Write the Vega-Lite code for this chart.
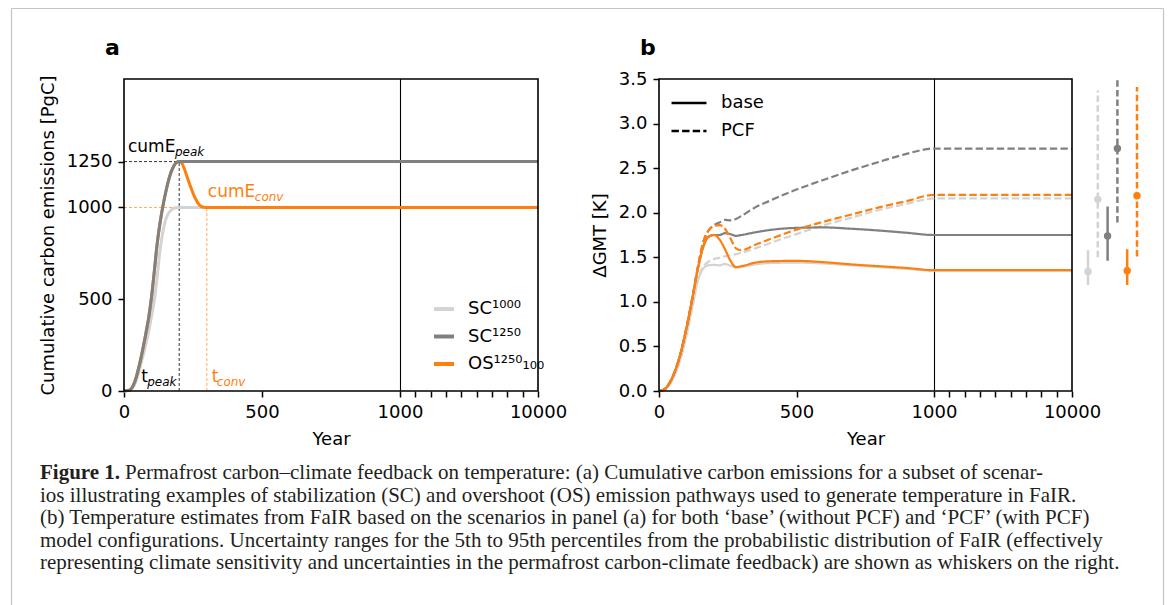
{
  "$schema": "https://vega.github.io/schema/vega-lite/v6.json",
  "width": 1152,
  "height": 597,
  "padding": {"left": 11, "top": 8, "right": 5, "bottom": 0},
  "autosize": {"type": "none"},
  "background": "#ffffff",
  "view": {"stroke": null},
  "config": {
    "font": "DejaVu Sans",
    "axis": {
      "labelFont": "DejaVu Sans", "labelFontSize": 18, "labelColor": "#000000",
      "titleFont": "DejaVu Sans", "titleFontSize": 18, "titleFontWeight": "normal", "titleColor": "#000000",
      "tickColor": "#000000", "tickSize": 6, "tickWidth": 1.5, "domain": false, "grid": false,
      "labelPadding": 6, "labelFlush": false, "labelOverlap": false, "titlePadding": 9
    },
    "legend": {"labelFont": "DejaVu Sans", "labelFontSize": 18, "labelColor": "#000000"}
  },
  "datasets": {
    "emis": [
      {"scenario": "SC¹⁰⁰⁰", "year": 0, "value": 0}, {"scenario": "SC¹⁰⁰⁰", "year": 20, "value": 4}, {"scenario": "SC¹⁰⁰⁰", "year": 40, "value": 40}, {"scenario": "SC¹⁰⁰⁰", "year": 60, "value": 140}, {"scenario": "SC¹⁰⁰⁰", "year": 80, "value": 260}, {"scenario": "SC¹⁰⁰⁰", "year": 90, "value": 330}, {"scenario": "SC¹⁰⁰⁰", "year": 100, "value": 410}, {"scenario": "SC¹⁰⁰⁰", "year": 110, "value": 495}, {"scenario": "SC¹⁰⁰⁰", "year": 120, "value": 620}, {"scenario": "SC¹⁰⁰⁰", "year": 130, "value": 760}, {"scenario": "SC¹⁰⁰⁰", "year": 140, "value": 860}, {"scenario": "SC¹⁰⁰⁰", "year": 150, "value": 928}, {"scenario": "SC¹⁰⁰⁰", "year": 160, "value": 965}, {"scenario": "SC¹⁰⁰⁰", "year": 170, "value": 985}, {"scenario": "SC¹⁰⁰⁰", "year": 180, "value": 995}, {"scenario": "SC¹⁰⁰⁰", "year": 190, "value": 999}, {"scenario": "SC¹⁰⁰⁰", "year": 200, "value": 1000}, {"scenario": "SC¹⁰⁰⁰", "year": 1000, "value": 1000}, {"scenario": "SC¹⁰⁰⁰", "year": 10000, "value": 1000},
      {"scenario": "SC¹²⁵⁰", "year": 0, "value": 0}, {"scenario": "SC¹²⁵⁰", "year": 20, "value": 5}, {"scenario": "SC¹²⁵⁰", "year": 40, "value": 55}, {"scenario": "SC¹²⁵⁰", "year": 60, "value": 170}, {"scenario": "SC¹²⁵⁰", "year": 80, "value": 320}, {"scenario": "SC¹²⁵⁰", "year": 90, "value": 405}, {"scenario": "SC¹²⁵⁰", "year": 100, "value": 515}, {"scenario": "SC¹²⁵⁰", "year": 110, "value": 655}, {"scenario": "SC¹²⁵⁰", "year": 120, "value": 800}, {"scenario": "SC¹²⁵⁰", "year": 130, "value": 910}, {"scenario": "SC¹²⁵⁰", "year": 140, "value": 1000}, {"scenario": "SC¹²⁵⁰", "year": 150, "value": 1075}, {"scenario": "SC¹²⁵⁰", "year": 160, "value": 1140}, {"scenario": "SC¹²⁵⁰", "year": 170, "value": 1190}, {"scenario": "SC¹²⁵⁰", "year": 180, "value": 1225}, {"scenario": "SC¹²⁵⁰", "year": 190, "value": 1245}, {"scenario": "SC¹²⁵⁰", "year": 200, "value": 1250}, {"scenario": "SC¹²⁵⁰", "year": 1000, "value": 1250}, {"scenario": "SC¹²⁵⁰", "year": 10000, "value": 1250},
      {"scenario": "OS¹²⁵⁰₁₀₀", "year": 0, "value": 0}, {"scenario": "OS¹²⁵⁰₁₀₀", "year": 20, "value": 5}, {"scenario": "OS¹²⁵⁰₁₀₀", "year": 40, "value": 55}, {"scenario": "OS¹²⁵⁰₁₀₀", "year": 60, "value": 170}, {"scenario": "OS¹²⁵⁰₁₀₀", "year": 80, "value": 320}, {"scenario": "OS¹²⁵⁰₁₀₀", "year": 90, "value": 405}, {"scenario": "OS¹²⁵⁰₁₀₀", "year": 100, "value": 515}, {"scenario": "OS¹²⁵⁰₁₀₀", "year": 110, "value": 655}, {"scenario": "OS¹²⁵⁰₁₀₀", "year": 120, "value": 800}, {"scenario": "OS¹²⁵⁰₁₀₀", "year": 130, "value": 910}, {"scenario": "OS¹²⁵⁰₁₀₀", "year": 140, "value": 1000}, {"scenario": "OS¹²⁵⁰₁₀₀", "year": 150, "value": 1075}, {"scenario": "OS¹²⁵⁰₁₀₀", "year": 160, "value": 1140}, {"scenario": "OS¹²⁵⁰₁₀₀", "year": 170, "value": 1190}, {"scenario": "OS¹²⁵⁰₁₀₀", "year": 180, "value": 1225}, {"scenario": "OS¹²⁵⁰₁₀₀", "year": 190, "value": 1245}, {"scenario": "OS¹²⁵⁰₁₀₀", "year": 200, "value": 1250}, {"scenario": "OS¹²⁵⁰₁₀₀", "year": 210, "value": 1240}, {"scenario": "OS¹²⁵⁰₁₀₀", "year": 220, "value": 1205}, {"scenario": "OS¹²⁵⁰₁₀₀", "year": 230, "value": 1160}, {"scenario": "OS¹²⁵⁰₁₀₀", "year": 240, "value": 1118}, {"scenario": "OS¹²⁵⁰₁₀₀", "year": 250, "value": 1078}, {"scenario": "OS¹²⁵⁰₁₀₀", "year": 260, "value": 1045}, {"scenario": "OS¹²⁵⁰₁₀₀", "year": 270, "value": 1020}, {"scenario": "OS¹²⁵⁰₁₀₀", "year": 280, "value": 1006}, {"scenario": "OS¹²⁵⁰₁₀₀", "year": 290, "value": 1001}, {"scenario": "OS¹²⁵⁰₁₀₀", "year": 300, "value": 1000}, {"scenario": "OS¹²⁵⁰₁₀₀", "year": 1000, "value": 1000}, {"scenario": "OS¹²⁵⁰₁₀₀", "year": 10000, "value": 1000}
    ],
    "gmt": [
      {"scenario": "SC¹⁰⁰⁰", "config": "base", "year": 0, "value": 0}, {"scenario": "SC¹⁰⁰⁰", "config": "base", "year": 20, "value": 0.015}, {"scenario": "SC¹⁰⁰⁰", "config": "base", "year": 40, "value": 0.08}, {"scenario": "SC¹⁰⁰⁰", "config": "base", "year": 60, "value": 0.2}, {"scenario": "SC¹⁰⁰⁰", "config": "base", "year": 80, "value": 0.38}, {"scenario": "SC¹⁰⁰⁰", "config": "base", "year": 100, "value": 0.63}, {"scenario": "SC¹⁰⁰⁰", "config": "base", "year": 120, "value": 0.92}, {"scenario": "SC¹⁰⁰⁰", "config": "base", "year": 140, "value": 1.22}, {"scenario": "SC¹⁰⁰⁰", "config": "base", "year": 160, "value": 1.37}, {"scenario": "SC¹⁰⁰⁰", "config": "base", "year": 180, "value": 1.41}, {"scenario": "SC¹⁰⁰⁰", "config": "base", "year": 200, "value": 1.415}, {"scenario": "SC¹⁰⁰⁰", "config": "base", "year": 220, "value": 1.41}, {"scenario": "SC¹⁰⁰⁰", "config": "base", "year": 240, "value": 1.425}, {"scenario": "SC¹⁰⁰⁰", "config": "base", "year": 260, "value": 1.405}, {"scenario": "SC¹⁰⁰⁰", "config": "base", "year": 280, "value": 1.385}, {"scenario": "SC¹⁰⁰⁰", "config": "base", "year": 300, "value": 1.39}, {"scenario": "SC¹⁰⁰⁰", "config": "base", "year": 350, "value": 1.42}, {"scenario": "SC¹⁰⁰⁰", "config": "base", "year": 400, "value": 1.435}, {"scenario": "SC¹⁰⁰⁰", "config": "base", "year": 500, "value": 1.44}, {"scenario": "SC¹⁰⁰⁰", "config": "base", "year": 600, "value": 1.43}, {"scenario": "SC¹⁰⁰⁰", "config": "base", "year": 700, "value": 1.41}, {"scenario": "SC¹⁰⁰⁰", "config": "base", "year": 800, "value": 1.39}, {"scenario": "SC¹⁰⁰⁰", "config": "base", "year": 900, "value": 1.37}, {"scenario": "SC¹⁰⁰⁰", "config": "base", "year": 1000, "value": 1.35}, {"scenario": "SC¹⁰⁰⁰", "config": "base", "year": 10000, "value": 1.35},
      {"scenario": "SC¹⁰⁰⁰", "config": "PCF", "year": 0, "value": 0}, {"scenario": "SC¹⁰⁰⁰", "config": "PCF", "year": 20, "value": 0.015}, {"scenario": "SC¹⁰⁰⁰", "config": "PCF", "year": 40, "value": 0.08}, {"scenario": "SC¹⁰⁰⁰", "config": "PCF", "year": 60, "value": 0.2}, {"scenario": "SC¹⁰⁰⁰", "config": "PCF", "year": 80, "value": 0.38}, {"scenario": "SC¹⁰⁰⁰", "config": "PCF", "year": 100, "value": 0.63}, {"scenario": "SC¹⁰⁰⁰", "config": "PCF", "year": 120, "value": 0.92}, {"scenario": "SC¹⁰⁰⁰", "config": "PCF", "year": 140, "value": 1.23}, {"scenario": "SC¹⁰⁰⁰", "config": "PCF", "year": 160, "value": 1.39}, {"scenario": "SC¹⁰⁰⁰", "config": "PCF", "year": 180, "value": 1.45}, {"scenario": "SC¹⁰⁰⁰", "config": "PCF", "year": 200, "value": 1.48}, {"scenario": "SC¹⁰⁰⁰", "config": "PCF", "year": 220, "value": 1.495}, {"scenario": "SC¹⁰⁰⁰", "config": "PCF", "year": 240, "value": 1.51}, {"scenario": "SC¹⁰⁰⁰", "config": "PCF", "year": 260, "value": 1.52}, {"scenario": "SC¹⁰⁰⁰", "config": "PCF", "year": 280, "value": 1.535}, {"scenario": "SC¹⁰⁰⁰", "config": "PCF", "year": 300, "value": 1.55}, {"scenario": "SC¹⁰⁰⁰", "config": "PCF", "year": 350, "value": 1.6}, {"scenario": "SC¹⁰⁰⁰", "config": "PCF", "year": 400, "value": 1.655}, {"scenario": "SC¹⁰⁰⁰", "config": "PCF", "year": 500, "value": 1.76}, {"scenario": "SC¹⁰⁰⁰", "config": "PCF", "year": 600, "value": 1.86}, {"scenario": "SC¹⁰⁰⁰", "config": "PCF", "year": 700, "value": 1.945}, {"scenario": "SC¹⁰⁰⁰", "config": "PCF", "year": 800, "value": 2.03}, {"scenario": "SC¹⁰⁰⁰", "config": "PCF", "year": 900, "value": 2.1}, {"scenario": "SC¹⁰⁰⁰", "config": "PCF", "year": 1000, "value": 2.16}, {"scenario": "SC¹⁰⁰⁰", "config": "PCF", "year": 10000, "value": 2.16},
      {"scenario": "SC¹²⁵⁰", "config": "base", "year": 0, "value": 0}, {"scenario": "SC¹²⁵⁰", "config": "base", "year": 20, "value": 0.02}, {"scenario": "SC¹²⁵⁰", "config": "base", "year": 40, "value": 0.1}, {"scenario": "SC¹²⁵⁰", "config": "base", "year": 60, "value": 0.24}, {"scenario": "SC¹²⁵⁰", "config": "base", "year": 80, "value": 0.44}, {"scenario": "SC¹²⁵⁰", "config": "base", "year": 100, "value": 0.71}, {"scenario": "SC¹²⁵⁰", "config": "base", "year": 120, "value": 1.02}, {"scenario": "SC¹²⁵⁰", "config": "base", "year": 140, "value": 1.35}, {"scenario": "SC¹²⁵⁰", "config": "base", "year": 160, "value": 1.61}, {"scenario": "SC¹²⁵⁰", "config": "base", "year": 180, "value": 1.73}, {"scenario": "SC¹²⁵⁰", "config": "base", "year": 200, "value": 1.75}, {"scenario": "SC¹²⁵⁰", "config": "base", "year": 220, "value": 1.75}, {"scenario": "SC¹²⁵⁰", "config": "base", "year": 240, "value": 1.77}, {"scenario": "SC¹²⁵⁰", "config": "base", "year": 260, "value": 1.76}, {"scenario": "SC¹²⁵⁰", "config": "base", "year": 280, "value": 1.74}, {"scenario": "SC¹²⁵⁰", "config": "base", "year": 300, "value": 1.75}, {"scenario": "SC¹²⁵⁰", "config": "base", "year": 350, "value": 1.78}, {"scenario": "SC¹²⁵⁰", "config": "base", "year": 400, "value": 1.805}, {"scenario": "SC¹²⁵⁰", "config": "base", "year": 500, "value": 1.83}, {"scenario": "SC¹²⁵⁰", "config": "base", "year": 600, "value": 1.835}, {"scenario": "SC¹²⁵⁰", "config": "base", "year": 700, "value": 1.82}, {"scenario": "SC¹²⁵⁰", "config": "base", "year": 800, "value": 1.8}, {"scenario": "SC¹²⁵⁰", "config": "base", "year": 900, "value": 1.775}, {"scenario": "SC¹²⁵⁰", "config": "base", "year": 1000, "value": 1.75}, {"scenario": "SC¹²⁵⁰", "config": "base", "year": 10000, "value": 1.75},
      {"scenario": "SC¹²⁵⁰", "config": "PCF", "year": 0, "value": 0}, {"scenario": "SC¹²⁵⁰", "config": "PCF", "year": 20, "value": 0.02}, {"scenario": "SC¹²⁵⁰", "config": "PCF", "year": 40, "value": 0.1}, {"scenario": "SC¹²⁵⁰", "config": "PCF", "year": 60, "value": 0.24}, {"scenario": "SC¹²⁵⁰", "config": "PCF", "year": 80, "value": 0.44}, {"scenario": "SC¹²⁵⁰", "config": "PCF", "year": 100, "value": 0.71}, {"scenario": "SC¹²⁵⁰", "config": "PCF", "year": 120, "value": 1.02}, {"scenario": "SC¹²⁵⁰", "config": "PCF", "year": 140, "value": 1.37}, {"scenario": "SC¹²⁵⁰", "config": "PCF", "year": 160, "value": 1.66}, {"scenario": "SC¹²⁵⁰", "config": "PCF", "year": 180, "value": 1.8}, {"scenario": "SC¹²⁵⁰", "config": "PCF", "year": 200, "value": 1.86}, {"scenario": "SC¹²⁵⁰", "config": "PCF", "year": 220, "value": 1.89}, {"scenario": "SC¹²⁵⁰", "config": "PCF", "year": 240, "value": 1.92}, {"scenario": "SC¹²⁵⁰", "config": "PCF", "year": 260, "value": 1.915}, {"scenario": "SC¹²⁵⁰", "config": "PCF", "year": 280, "value": 1.93}, {"scenario": "SC¹²⁵⁰", "config": "PCF", "year": 300, "value": 1.965}, {"scenario": "SC¹²⁵⁰", "config": "PCF", "year": 350, "value": 2.06}, {"scenario": "SC¹²⁵⁰", "config": "PCF", "year": 400, "value": 2.13}, {"scenario": "SC¹²⁵⁰", "config": "PCF", "year": 500, "value": 2.26}, {"scenario": "SC¹²⁵⁰", "config": "PCF", "year": 600, "value": 2.37}, {"scenario": "SC¹²⁵⁰", "config": "PCF", "year": 700, "value": 2.475}, {"scenario": "SC¹²⁵⁰", "config": "PCF", "year": 800, "value": 2.57}, {"scenario": "SC¹²⁵⁰", "config": "PCF", "year": 900, "value": 2.66}, {"scenario": "SC¹²⁵⁰", "config": "PCF", "year": 1000, "value": 2.72}, {"scenario": "SC¹²⁵⁰", "config": "PCF", "year": 10000, "value": 2.72},
      {"scenario": "OS¹²⁵⁰₁₀₀", "config": "base", "year": 0, "value": 0}, {"scenario": "OS¹²⁵⁰₁₀₀", "config": "base", "year": 20, "value": 0.02}, {"scenario": "OS¹²⁵⁰₁₀₀", "config": "base", "year": 40, "value": 0.1}, {"scenario": "OS¹²⁵⁰₁₀₀", "config": "base", "year": 60, "value": 0.24}, {"scenario": "OS¹²⁵⁰₁₀₀", "config": "base", "year": 80, "value": 0.44}, {"scenario": "OS¹²⁵⁰₁₀₀", "config": "base", "year": 100, "value": 0.71}, {"scenario": "OS¹²⁵⁰₁₀₀", "config": "base", "year": 120, "value": 1.02}, {"scenario": "OS¹²⁵⁰₁₀₀", "config": "base", "year": 140, "value": 1.35}, {"scenario": "OS¹²⁵⁰₁₀₀", "config": "base", "year": 160, "value": 1.61}, {"scenario": "OS¹²⁵⁰₁₀₀", "config": "base", "year": 180, "value": 1.73}, {"scenario": "OS¹²⁵⁰₁₀₀", "config": "base", "year": 200, "value": 1.75}, {"scenario": "OS¹²⁵⁰₁₀₀", "config": "base", "year": 220, "value": 1.7}, {"scenario": "OS¹²⁵⁰₁₀₀", "config": "base", "year": 240, "value": 1.59}, {"scenario": "OS¹²⁵⁰₁₀₀", "config": "base", "year": 260, "value": 1.46}, {"scenario": "OS¹²⁵⁰₁₀₀", "config": "base", "year": 280, "value": 1.39}, {"scenario": "OS¹²⁵⁰₁₀₀", "config": "base", "year": 300, "value": 1.4}, {"scenario": "OS¹²⁵⁰₁₀₀", "config": "base", "year": 350, "value": 1.44}, {"scenario": "OS¹²⁵⁰₁₀₀", "config": "base", "year": 400, "value": 1.455}, {"scenario": "OS¹²⁵⁰₁₀₀", "config": "base", "year": 500, "value": 1.46}, {"scenario": "OS¹²⁵⁰₁₀₀", "config": "base", "year": 600, "value": 1.445}, {"scenario": "OS¹²⁵⁰₁₀₀", "config": "base", "year": 700, "value": 1.42}, {"scenario": "OS¹²⁵⁰₁₀₀", "config": "base", "year": 800, "value": 1.4}, {"scenario": "OS¹²⁵⁰₁₀₀", "config": "base", "year": 900, "value": 1.38}, {"scenario": "OS¹²⁵⁰₁₀₀", "config": "base", "year": 1000, "value": 1.355}, {"scenario": "OS¹²⁵⁰₁₀₀", "config": "base", "year": 10000, "value": 1.355},
      {"scenario": "OS¹²⁵⁰₁₀₀", "config": "PCF", "year": 0, "value": 0}, {"scenario": "OS¹²⁵⁰₁₀₀", "config": "PCF", "year": 20, "value": 0.02}, {"scenario": "OS¹²⁵⁰₁₀₀", "config": "PCF", "year": 40, "value": 0.1}, {"scenario": "OS¹²⁵⁰₁₀₀", "config": "PCF", "year": 60, "value": 0.24}, {"scenario": "OS¹²⁵⁰₁₀₀", "config": "PCF", "year": 80, "value": 0.44}, {"scenario": "OS¹²⁵⁰₁₀₀", "config": "PCF", "year": 100, "value": 0.71}, {"scenario": "OS¹²⁵⁰₁₀₀", "config": "PCF", "year": 120, "value": 1.02}, {"scenario": "OS¹²⁵⁰₁₀₀", "config": "PCF", "year": 140, "value": 1.37}, {"scenario": "OS¹²⁵⁰₁₀₀", "config": "PCF", "year": 160, "value": 1.66}, {"scenario": "OS¹²⁵⁰₁₀₀", "config": "PCF", "year": 180, "value": 1.8}, {"scenario": "OS¹²⁵⁰₁₀₀", "config": "PCF", "year": 200, "value": 1.85}, {"scenario": "OS¹²⁵⁰₁₀₀", "config": "PCF", "year": 220, "value": 1.86}, {"scenario": "OS¹²⁵⁰₁₀₀", "config": "PCF", "year": 240, "value": 1.82}, {"scenario": "OS¹²⁵⁰₁₀₀", "config": "PCF", "year": 260, "value": 1.71}, {"scenario": "OS¹²⁵⁰₁₀₀", "config": "PCF", "year": 280, "value": 1.6}, {"scenario": "OS¹²⁵⁰₁₀₀", "config": "PCF", "year": 300, "value": 1.58}, {"scenario": "OS¹²⁵⁰₁₀₀", "config": "PCF", "year": 350, "value": 1.64}, {"scenario": "OS¹²⁵⁰₁₀₀", "config": "PCF", "year": 400, "value": 1.7}, {"scenario": "OS¹²⁵⁰₁₀₀", "config": "PCF", "year": 500, "value": 1.81}, {"scenario": "OS¹²⁵⁰₁₀₀", "config": "PCF", "year": 600, "value": 1.9}, {"scenario": "OS¹²⁵⁰₁₀₀", "config": "PCF", "year": 700, "value": 1.98}, {"scenario": "OS¹²⁵⁰₁₀₀", "config": "PCF", "year": 800, "value": 2.06}, {"scenario": "OS¹²⁵⁰₁₀₀", "config": "PCF", "year": 900, "value": 2.13}, {"scenario": "OS¹²⁵⁰₁₀₀", "config": "PCF", "year": 1000, "value": 2.2}, {"scenario": "OS¹²⁵⁰₁₀₀", "config": "PCF", "year": 10000, "value": 2.2}
    ],
    "whisk": [
      {"run": "SC1000 base", "scenario": "SC¹⁰⁰⁰", "config": "base", "lo": 1.19, "mid": 1.34, "hi": 1.58},
      {"run": "SC1000 PCF", "scenario": "SC¹⁰⁰⁰", "config": "PCF", "lo": 1.5, "mid": 2.15, "hi": 3.37},
      {"run": "SC1250 base", "scenario": "SC¹²⁵⁰", "config": "base", "lo": 1.46, "mid": 1.74, "hi": 2.07},
      {"run": "SC1250 PCF", "scenario": "SC¹²⁵⁰", "config": "PCF", "lo": 1.89, "mid": 2.72, "hi": 3.5},
      {"run": "OS base", "scenario": "OS¹²⁵⁰₁₀₀", "config": "base", "lo": 1.19, "mid": 1.35, "hi": 1.59},
      {"run": "OS PCF", "scenario": "OS¹²⁵⁰₁₀₀", "config": "PCF", "lo": 1.51, "mid": 2.19, "hi": 3.41}
    ],
    "refs": [
      {"kind": "peak", "year": 0, "year2": 200, "value": 1250, "value2": 1250},
      {"kind": "peak", "year": 200, "year2": 200, "value": 0, "value2": 1250},
      {"kind": "conv", "year": 0, "year2": 300, "value": 1000, "value2": 1000},
      {"kind": "conv", "year": 300, "year2": 300, "value": 0, "value2": 1000}
    ],
    "caption": [
      {"line": 1, "part": "bold", "text": "Figure 1."},
      {"line": 1, "part": "rest", "text": "Permafrost carbon–climate feedback on temperature: (a) Cumulative carbon emissions for a subset of scenar-"},
      {"line": 2, "part": "body", "text": "ios illustrating examples of stabilization (SC) and overshoot (OS) emission pathways used to generate temperature in FaIR."},
      {"line": 3, "part": "body", "text": "(b) Temperature estimates from FaIR based on the scenarios in panel (a) for both ‘base’ (without PCF) and ‘PCF’ (with PCF)"},
      {"line": 4, "part": "body", "text": "model configurations. Uncertainty ranges for the 5th to 95th percentiles from the probabilistic distribution of FaIR (effectively"},
      {"line": 5, "part": "body", "text": "representing climate sensitivity and uncertainties in the permafrost carbon-climate feedback) are shown as whiskers on the right."}
    ]
  },
  "resolve": {
    "scale": {"x": "independent", "y": "independent", "color": "independent", "strokeDash": "independent"},
    "legend": {"color": "independent", "strokeDash": "independent"}
  },
  "layer": [
    {
      "data": {"values": [{"bx": 0, "by": 0}]},
      "mark": {"type": "point", "opacity": 0},
      "encoding": {
        "x": {"field": "bx", "type": "quantitative", "scale": {"domain": [0, 1]}, "axis": {"orient": "top", "offset": 0, "domain": true, "domainColor": "#c4c4c4", "domainWidth": 1.2, "ticks": false, "labels": false, "title": null}},
        "y": {"field": "by", "type": "quantitative", "scale": {"domain": [0, 1]}, "axis": {"orient": "left", "offset": 0, "domain": true, "domainColor": "#c4c4c4", "domainWidth": 1.2, "ticks": false, "labels": false, "title": null}}
      }
    },
    {
      "data": {"values": [{"bx": 0, "by": 0}]},
      "mark": {"type": "point", "opacity": 0},
      "encoding": {
        "x": {"field": "bx", "type": "quantitative", "scale": {"domain": [0, 1]}, "axis": null},
        "y": {"field": "by", "type": "quantitative", "scale": {"domain": [0, 1]}, "axis": {"orient": "right", "offset": 0, "domain": true, "domainColor": "#c4c4c4", "domainWidth": 1.2, "ticks": false, "labels": false, "title": null}}
      }
    },
    {
      "encoding": {
        "x": {"field": "year", "type": "quantitative", "scale": {"domain": [0, 1000, 10000], "range": [113, 389, 527], "nice": false, "zero": false},
          "axis": {"orient": "bottom", "offset": -214, "title": "Year", "values": [0, 500, 1000, 2000, 3000, 4000, 5000, 6000, 7000, 8000, 9000, 10000], "labelExpr": "datum.value == 0 || datum.value == 500 || datum.value == 1000 || datum.value == 10000 ? format(datum.value, 'd') : ''"}},
        "y": {"field": "value", "type": "quantitative", "scale": {"domain": [0, 1700], "range": [383, 71], "nice": false},
          "axis": {"orient": "left", "offset": -113, "title": "Cumulative carbon emissions [PgC]", "values": [0, 500, 1000, 1250], "format": "d"}}
      },
      "layer": [
        {"data": {"values": [{"year": 1000, "year2": 1000, "value": 0, "value2": 1700}]}, "mark": {"type": "rule", "color": "#000000", "strokeWidth": 1.1, "xOffset": 0.5, "x2Offset": 0.5}, "encoding": {"x2": {"field": "year2"}, "y2": {"field": "value2"}}},
        {"data": {"name": "refs"}, "transform": [{"filter": "datum.kind == 'peak'"}], "mark": {"type": "rule", "color": "#333333", "strokeWidth": 1, "strokeDash": [3, 2]}, "encoding": {"x2": {"field": "year2"}, "y2": {"field": "value2"}}},
        {"data": {"name": "refs"}, "transform": [{"filter": "datum.kind == 'conv'"}], "mark": {"type": "rule", "color": "#ff7f0e", "opacity": 0.65, "strokeWidth": 1, "strokeDash": [3, 2]}, "encoding": {"x2": {"field": "year2"}, "y2": {"field": "value2"}}},
        {"data": {"name": "emis"}, "transform": [{"filter": "datum.scenario == 'SC¹⁰⁰⁰'"}], "mark": {"type": "line", "strokeWidth": 3, "interpolate": "monotone"},
          "encoding": {"color": {"field": "scenario", "type": "nominal", "scale": {"domain": ["SC¹⁰⁰⁰", "SC¹²⁵⁰", "OS¹²⁵⁰₁₀₀"], "range": ["#d3d3d3", "#808080", "#ff7f0e"]},
            "legend": {"orient": "none", "legendX": 421, "legendY": 289, "symbolType": "stroke", "symbolSize": 400, "symbolStrokeWidth": 4, "labelFontSize": 18, "labelOffset": 12, "rowPadding": 6.5, "title": null}}}},
        {"data": {"name": "emis"}, "transform": [{"filter": "datum.scenario == 'OS¹²⁵⁰₁₀₀'"}], "mark": {"type": "line", "strokeWidth": 3, "interpolate": "monotone"}, "encoding": {"color": {"field": "scenario", "type": "nominal"}}},
        {"data": {"name": "emis"}, "transform": [{"filter": "datum.scenario == 'SC¹²⁵⁰'"}], "mark": {"type": "line", "strokeWidth": 3, "interpolate": "monotone"}, "encoding": {"color": {"field": "scenario", "type": "nominal"}}},
        {"data": {"values": [{"year": 0, "value": 1250, "label": "cumE"}]}, "mark": {"type": "text", "align": "left", "baseline": "alphabetic", "dx": 4, "dy": -10, "fontSize": 17, "color": "#000000"}, "encoding": {"text": {"field": "label"}}},
        {"data": {"values": [{"year": 0, "value": 1250, "label": "peak"}]}, "mark": {"type": "text", "align": "left", "baseline": "alphabetic", "dx": 51, "dy": -6, "fontSize": 12, "fontStyle": "italic", "color": "#000000"}, "encoding": {"text": {"field": "label"}}},
        {"data": {"values": [{"year": 300, "value": 1000, "label": "cumE"}]}, "mark": {"type": "text", "align": "left", "baseline": "alphabetic", "dx": 1, "dy": -10, "fontSize": 17, "color": "#ff7f0e"}, "encoding": {"text": {"field": "label"}}},
        {"data": {"values": [{"year": 300, "value": 1000, "label": "conv"}]}, "mark": {"type": "text", "align": "left", "baseline": "alphabetic", "dx": 48, "dy": -6, "fontSize": 12, "fontStyle": "italic", "color": "#ff7f0e"}, "encoding": {"text": {"field": "label"}}},
        {"data": {"values": [{"year": 200, "value": 0, "label": "t"}]}, "mark": {"type": "text", "align": "left", "baseline": "alphabetic", "dx": -38, "dy": -9, "fontSize": 17, "color": "#000000"}, "encoding": {"text": {"field": "label"}}},
        {"data": {"values": [{"year": 200, "value": 0, "label": "peak"}]}, "mark": {"type": "text", "align": "left", "baseline": "alphabetic", "dx": -32, "dy": -5, "fontSize": 12, "fontStyle": "italic", "color": "#000000"}, "encoding": {"text": {"field": "label"}}},
        {"data": {"values": [{"year": 300, "value": 0, "label": "t"}]}, "mark": {"type": "text", "align": "left", "baseline": "alphabetic", "dx": 5, "dy": -9, "fontSize": 17, "color": "#ff7f0e"}, "encoding": {"text": {"field": "label"}}},
        {"data": {"values": [{"year": 300, "value": 0, "label": "conv"}]}, "mark": {"type": "text", "align": "left", "baseline": "alphabetic", "dx": 10, "dy": -5, "fontSize": 12, "fontStyle": "italic", "color": "#ff7f0e"}, "encoding": {"text": {"field": "label"}}},
        {"data": {"values": [{"year": 0, "value": 1700, "label": "a"}]}, "mark": {"type": "text", "align": "left", "baseline": "alphabetic", "dx": -19, "dy": -24, "fontSize": 22, "fontWeight": "bold", "color": "#000000"}, "encoding": {"text": {"field": "label"}}},
        {"data": {"values": [{"year": 0, "year2": 10000, "value": 0, "value2": 1700}]}, "mark": {"type": "rect", "filled": false, "color": "#000000", "strokeWidth": 1.6}, "encoding": {"x2": {"field": "year2"}, "y2": {"field": "value2"}}}
      ]
    },
    {
      "encoding": {
        "x": {"field": "year", "type": "quantitative", "scale": {"domain": [0, 1000, 10000], "range": [648, 923, 1061], "nice": false, "zero": false},
          "axis": {"orient": "bottom", "offset": -214, "title": "Year", "values": [0, 500, 1000, 2000, 3000, 4000, 5000, 6000, 7000, 8000, 9000, 10000], "labelExpr": "datum.value == 0 || datum.value == 500 || datum.value == 1000 || datum.value == 10000 ? format(datum.value, 'd') : ''"}},
        "y": {"field": "value", "type": "quantitative", "scale": {"domain": [0, 3.5], "range": [383, 71], "nice": false},
          "axis": {"orient": "left", "offset": -648, "title": "ΔGMT [K]", "values": [0, 0.5, 1, 1.5, 2, 2.5, 3, 3.5], "format": ".1f"}}
      },
      "layer": [
        {"data": {"values": [{"year": 1000, "year2": 1000, "value": 0, "value2": 3.5}]}, "mark": {"type": "rule", "color": "#000000", "strokeWidth": 1.1, "xOffset": 0.5, "x2Offset": 0.5}, "encoding": {"x2": {"field": "year2"}, "y2": {"field": "value2"}}},
        {"data": {"name": "gmt"}, "transform": [{"filter": "datum.scenario == 'SC¹⁰⁰⁰'"}], "mark": {"type": "line", "strokeWidth": 2.2, "interpolate": "monotone"},
          "encoding": {
            "color": {"field": "scenario", "type": "nominal", "scale": {"domain": ["SC¹⁰⁰⁰", "SC¹²⁵⁰", "OS¹²⁵⁰₁₀₀"], "range": ["#d3d3d3", "#808080", "#ff7f0e"]}, "legend": null},
            "strokeDash": {"field": "config", "type": "nominal", "scale": {"domain": ["base", "PCF"], "range": [[1, 0], [7.4, 3.2]]},
              "legend": {"orient": "none", "legendX": 659, "legendY": 76, "symbolType": "stroke", "symbolSize": 1225, "symbolStrokeWidth": 2.5, "symbolStrokeColor": "#000000", "labelFontSize": 18, "labelOffset": 13, "rowPadding": -10, "title": null}}}},
        {"data": {"name": "gmt"}, "transform": [{"filter": "datum.scenario == 'SC¹²⁵⁰'"}], "mark": {"type": "line", "strokeWidth": 2.2, "interpolate": "monotone"},
          "encoding": {"color": {"field": "scenario", "type": "nominal", "legend": null}, "strokeDash": {"field": "config", "type": "nominal"}}},
        {"data": {"name": "gmt"}, "transform": [{"filter": "datum.scenario == 'OS¹²⁵⁰₁₀₀'"}], "mark": {"type": "line", "strokeWidth": 2.2, "interpolate": "monotone"},
          "encoding": {"color": {"field": "scenario", "type": "nominal", "legend": null}, "strokeDash": {"field": "config", "type": "nominal"}}},
        {"data": {"values": [{"year": 0, "value": 3.5, "label": "b"}]}, "mark": {"type": "text", "align": "left", "baseline": "alphabetic", "dx": -19, "dy": -24, "fontSize": 22, "fontWeight": "bold", "color": "#000000"}, "encoding": {"text": {"field": "label"}}},
        {"data": {"values": [{"year": 0, "year2": 10000, "value": 0, "value2": 3.5}]}, "mark": {"type": "rect", "filled": false, "color": "#000000", "strokeWidth": 1.6}, "encoding": {"x2": {"field": "year2"}, "y2": {"field": "value2"}}}
      ]
    },
    {
      "data": {"name": "whisk"},
      "encoding": {
        "x": {"field": "run", "type": "nominal", "scale": {"type": "point", "padding": 0, "range": [1077, 1126], "domain": ["SC1000 base", "SC1000 PCF", "SC1250 base", "SC1250 PCF", "OS base", "OS PCF"]}, "axis": null},
        "color": {"field": "scenario", "type": "nominal", "scale": {"domain": ["SC¹⁰⁰⁰", "SC¹²⁵⁰", "OS¹²⁵⁰₁₀₀"], "range": ["#d3d3d3", "#808080", "#ff7f0e"]}, "legend": null}
      },
      "layer": [
        {"mark": {"type": "rule", "strokeWidth": 2.5},
          "encoding": {"y": {"field": "lo", "type": "quantitative", "scale": {"domain": [0, 3.5], "range": [383, 71], "nice": false}, "axis": null}, "y2": {"field": "hi"},
            "strokeDash": {"field": "config", "type": "nominal", "scale": {"domain": ["base", "PCF"], "range": [[1, 0], [6.5, 3.2]]}, "legend": null}}},
        {"mark": {"type": "point", "filled": true, "size": 55, "opacity": 1},
          "encoding": {"y": {"field": "mid", "type": "quantitative"}}}
      ]
    },
    {
      "data": {"name": "caption"},
      "encoding": {
        "x": {"datum": 0, "type": "quantitative", "scale": {"domain": [0, 1]}, "axis": null},
        "y": {"field": "line", "type": "ordinal", "scale": {"type": "point", "padding": 0, "range": [465, 555]}, "axis": null},
        "text": {"field": "text"}
      },
      "layer": [
        {"transform": [{"filter": "datum.part == 'bold'"}], "mark": {"type": "text", "align": "left", "baseline": "middle", "dx": 29, "font": "Liberation Serif", "fontSize": 21, "fontWeight": "bold", "color": "#231f20"}},
        {"transform": [{"filter": "datum.part == 'rest'"}], "mark": {"type": "text", "align": "left", "baseline": "middle", "dx": 114, "font": "Liberation Serif", "fontSize": 21, "color": "#231f20"}},
        {"transform": [{"filter": "datum.part == 'body'"}], "mark": {"type": "text", "align": "left", "baseline": "middle", "dx": 29, "font": "Liberation Serif", "fontSize": 21, "color": "#231f20"}}
      ]
    }
  ]
}
